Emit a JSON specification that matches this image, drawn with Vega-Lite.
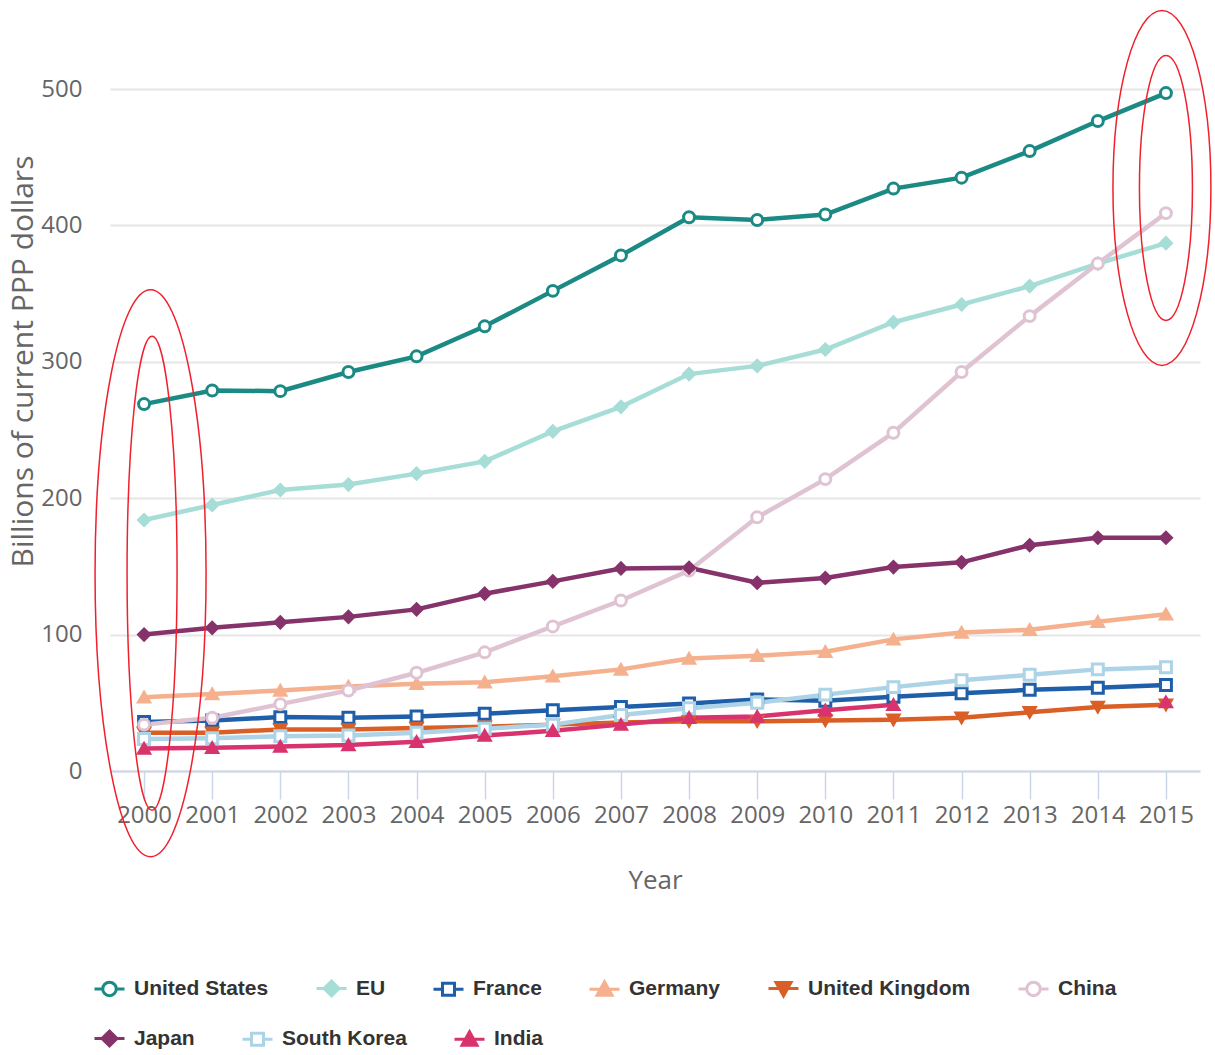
{
  "$schema": "https://vega.github.io/schema/vega-lite/v6.json",
  "width": 1090,
  "height": 682,
  "autosize": {"type": "none"},
  "padding": {"left": 110, "top": 89, "right": 15, "bottom": 284},
  "background": "white",
  "config": {"view": {"stroke": null}},
  "resolve": {"scale": {"stroke": "independent", "fill": "independent", "shape": "independent"}},
  "datasets": {
    "series": [
      {"Country": "United States", "Year": 2000, "value": 269},
      {"Country": "United States", "Year": 2001, "value": 279},
      {"Country": "United States", "Year": 2002, "value": 278.5},
      {"Country": "United States", "Year": 2003, "value": 292.5},
      {"Country": "United States", "Year": 2004, "value": 304},
      {"Country": "United States", "Year": 2005, "value": 326},
      {"Country": "United States", "Year": 2006, "value": 352},
      {"Country": "United States", "Year": 2007, "value": 378},
      {"Country": "United States", "Year": 2008, "value": 406},
      {"Country": "United States", "Year": 2009, "value": 404},
      {"Country": "United States", "Year": 2010, "value": 408},
      {"Country": "United States", "Year": 2011, "value": 427},
      {"Country": "United States", "Year": 2012, "value": 435},
      {"Country": "United States", "Year": 2013, "value": 454.5},
      {"Country": "United States", "Year": 2014, "value": 476.5},
      {"Country": "United States", "Year": 2015, "value": 497},
      {"Country": "EU", "Year": 2000, "value": 184},
      {"Country": "EU", "Year": 2001, "value": 195},
      {"Country": "EU", "Year": 2002, "value": 206},
      {"Country": "EU", "Year": 2003, "value": 210},
      {"Country": "EU", "Year": 2004, "value": 218},
      {"Country": "EU", "Year": 2005, "value": 227},
      {"Country": "EU", "Year": 2006, "value": 249},
      {"Country": "EU", "Year": 2007, "value": 267},
      {"Country": "EU", "Year": 2008, "value": 291},
      {"Country": "EU", "Year": 2009, "value": 297},
      {"Country": "EU", "Year": 2010, "value": 309},
      {"Country": "EU", "Year": 2011, "value": 329},
      {"Country": "EU", "Year": 2012, "value": 342},
      {"Country": "EU", "Year": 2013, "value": 355.5},
      {"Country": "EU", "Year": 2014, "value": 372},
      {"Country": "EU", "Year": 2015, "value": 387},
      {"Country": "France", "Year": 2000, "value": 36},
      {"Country": "France", "Year": 2001, "value": 37},
      {"Country": "France", "Year": 2002, "value": 39.5},
      {"Country": "France", "Year": 2003, "value": 39},
      {"Country": "France", "Year": 2004, "value": 40},
      {"Country": "France", "Year": 2005, "value": 42},
      {"Country": "France", "Year": 2006, "value": 44.5},
      {"Country": "France", "Year": 2007, "value": 47},
      {"Country": "France", "Year": 2008, "value": 49.5},
      {"Country": "France", "Year": 2009, "value": 52.5},
      {"Country": "France", "Year": 2010, "value": 51.5},
      {"Country": "France", "Year": 2011, "value": 54.5},
      {"Country": "France", "Year": 2012, "value": 57},
      {"Country": "France", "Year": 2013, "value": 59.5},
      {"Country": "France", "Year": 2014, "value": 61},
      {"Country": "France", "Year": 2015, "value": 63},
      {"Country": "Germany", "Year": 2000, "value": 54},
      {"Country": "Germany", "Year": 2001, "value": 56.5},
      {"Country": "Germany", "Year": 2002, "value": 59},
      {"Country": "Germany", "Year": 2003, "value": 62},
      {"Country": "Germany", "Year": 2004, "value": 64},
      {"Country": "Germany", "Year": 2005, "value": 65},
      {"Country": "Germany", "Year": 2006, "value": 69.5},
      {"Country": "Germany", "Year": 2007, "value": 74.5},
      {"Country": "Germany", "Year": 2008, "value": 82.5},
      {"Country": "Germany", "Year": 2009, "value": 84.5},
      {"Country": "Germany", "Year": 2010, "value": 87.5},
      {"Country": "Germany", "Year": 2011, "value": 96.5},
      {"Country": "Germany", "Year": 2012, "value": 101.5},
      {"Country": "Germany", "Year": 2013, "value": 103.5},
      {"Country": "Germany", "Year": 2014, "value": 109.5},
      {"Country": "Germany", "Year": 2015, "value": 115},
      {"Country": "United Kingdom", "Year": 2000, "value": 28},
      {"Country": "United Kingdom", "Year": 2001, "value": 28},
      {"Country": "United Kingdom", "Year": 2002, "value": 30.5},
      {"Country": "United Kingdom", "Year": 2003, "value": 30.5},
      {"Country": "United Kingdom", "Year": 2004, "value": 31.5},
      {"Country": "United Kingdom", "Year": 2005, "value": 32.5},
      {"Country": "United Kingdom", "Year": 2006, "value": 34},
      {"Country": "United Kingdom", "Year": 2007, "value": 35.5},
      {"Country": "United Kingdom", "Year": 2008, "value": 36.5},
      {"Country": "United Kingdom", "Year": 2009, "value": 36.5},
      {"Country": "United Kingdom", "Year": 2010, "value": 37},
      {"Country": "United Kingdom", "Year": 2011, "value": 37.5},
      {"Country": "United Kingdom", "Year": 2012, "value": 39},
      {"Country": "United Kingdom", "Year": 2013, "value": 43},
      {"Country": "United Kingdom", "Year": 2014, "value": 47},
      {"Country": "United Kingdom", "Year": 2015, "value": 48.5},
      {"Country": "China", "Year": 2000, "value": 34},
      {"Country": "China", "Year": 2001, "value": 39},
      {"Country": "China", "Year": 2002, "value": 49},
      {"Country": "China", "Year": 2003, "value": 59},
      {"Country": "China", "Year": 2004, "value": 72},
      {"Country": "China", "Year": 2005, "value": 87},
      {"Country": "China", "Year": 2006, "value": 106},
      {"Country": "China", "Year": 2007, "value": 125},
      {"Country": "China", "Year": 2008, "value": 147},
      {"Country": "China", "Year": 2009, "value": 186},
      {"Country": "China", "Year": 2010, "value": 214},
      {"Country": "China", "Year": 2011, "value": 248},
      {"Country": "China", "Year": 2012, "value": 292.5},
      {"Country": "China", "Year": 2013, "value": 333.5},
      {"Country": "China", "Year": 2014, "value": 372},
      {"Country": "China", "Year": 2015, "value": 409},
      {"Country": "Japan", "Year": 2000, "value": 100},
      {"Country": "Japan", "Year": 2001, "value": 105},
      {"Country": "Japan", "Year": 2002, "value": 109},
      {"Country": "Japan", "Year": 2003, "value": 113},
      {"Country": "Japan", "Year": 2004, "value": 118.5},
      {"Country": "Japan", "Year": 2005, "value": 130},
      {"Country": "Japan", "Year": 2006, "value": 139},
      {"Country": "Japan", "Year": 2007, "value": 148.5},
      {"Country": "Japan", "Year": 2008, "value": 149},
      {"Country": "Japan", "Year": 2009, "value": 138},
      {"Country": "Japan", "Year": 2010, "value": 141.5},
      {"Country": "Japan", "Year": 2011, "value": 149.5},
      {"Country": "Japan", "Year": 2012, "value": 153},
      {"Country": "Japan", "Year": 2013, "value": 165.5},
      {"Country": "Japan", "Year": 2014, "value": 171},
      {"Country": "Japan", "Year": 2015, "value": 171},
      {"Country": "South Korea", "Year": 2000, "value": 23.5},
      {"Country": "South Korea", "Year": 2001, "value": 24},
      {"Country": "South Korea", "Year": 2002, "value": 25.5},
      {"Country": "South Korea", "Year": 2003, "value": 26},
      {"Country": "South Korea", "Year": 2004, "value": 28},
      {"Country": "South Korea", "Year": 2005, "value": 31},
      {"Country": "South Korea", "Year": 2006, "value": 34},
      {"Country": "South Korea", "Year": 2007, "value": 41},
      {"Country": "South Korea", "Year": 2008, "value": 46},
      {"Country": "South Korea", "Year": 2009, "value": 50},
      {"Country": "South Korea", "Year": 2010, "value": 56},
      {"Country": "South Korea", "Year": 2011, "value": 61.5},
      {"Country": "South Korea", "Year": 2012, "value": 66.5},
      {"Country": "South Korea", "Year": 2013, "value": 70.5},
      {"Country": "South Korea", "Year": 2014, "value": 74.5},
      {"Country": "South Korea", "Year": 2015, "value": 76},
      {"Country": "India", "Year": 2000, "value": 16.5},
      {"Country": "India", "Year": 2001, "value": 17},
      {"Country": "India", "Year": 2002, "value": 18},
      {"Country": "India", "Year": 2003, "value": 19},
      {"Country": "India", "Year": 2004, "value": 21.5},
      {"Country": "India", "Year": 2005, "value": 26},
      {"Country": "India", "Year": 2006, "value": 29.5},
      {"Country": "India", "Year": 2007, "value": 34},
      {"Country": "India", "Year": 2008, "value": 39},
      {"Country": "India", "Year": 2009, "value": 40},
      {"Country": "India", "Year": 2010, "value": 44.5},
      {"Country": "India", "Year": 2011, "value": 48.5},
      {"Country": "India", "Year": 2012, "value": null},
      {"Country": "India", "Year": 2013, "value": null},
      {"Country": "India", "Year": 2014, "value": null},
      {"Country": "India", "Year": 2015, "value": 50.5}
    ]
  },
  "encoding": {
    "x": {
      "field": "Year",
      "type": "ordinal",
      "scale": {"type": "point", "padding": 0.5},
      "axis": {
        "title": "Year",
        "labelAngle": 0,
        "labelFont": "Open Sans",
        "labelFontSize": 24,
        "labelColor": "#666666",
        "labelPadding": 4,
        "tickSize": 28,
        "tickColor": "#ccd6eb",
        "tickWidth": 1.5,
        "domainColor": "#ccd6eb",
        "domainWidth": 2,
        "grid": false,
        "titleFont": "Open Sans",
        "titleFontSize": 26,
        "titleFontWeight": "normal",
        "titleColor": "#666666",
        "titlePadding": 40
      }
    },
    "y": {
      "field": "value",
      "type": "quantitative",
      "scale": {"domain": [0, 500], "nice": false, "zero": true},
      "axis": {
        "title": "Billions of current PPP dollars",
        "values": [0, 100, 200, 300, 400, 500],
        "grid": true,
        "gridColor": "#e6e6e6",
        "gridWidth": 2,
        "ticks": false,
        "domain": false,
        "labelFont": "Open Sans",
        "labelFontSize": 24,
        "labelColor": "#666666",
        "labelPadding": 28,
        "titleFont": "Open Sans",
        "titleFontSize": 30,
        "titleFontWeight": "normal",
        "titleColor": "#666666",
        "titlePadding": 2,
        "titleY": 272
      }
    }
  },
  "layer": [
    {
      "data": {"name": "series"},
      "transform": [{"filter": "false"}],
      "mark": {"type": "point", "filled": true, "strokeWidth": 3, "opacity": 1},
      "encoding": {
        "stroke": {
          "field": "Country", "type": "nominal",
          "scale": {"domain": ["United States", "EU", "France", "Germany", "United Kingdom", "China", "Japan", "South Korea", "India"], "range": ["#1b8a84", "#a6ddd7", "#1f5ea8", "#f5b08e", "#d95f26", "#e0c3d3", "#85336a", "#acd3e6", "#d9336e"]},
          "legend": {"values": ["United States", "EU", "France", "Germany", "United Kingdom", "China"], "orient": "none", "legendX": -17, "legendY": 883, "direction": "horizontal", "title": null, "symbolSize": 900, "symbolStrokeWidth": 3, "labelFont": "Liberation Sans", "labelFontSize": 21, "labelFontWeight": "bold", "labelColor": "#333333", "labelOffset": 8, "labelLimit": 400, "columnPadding": 41, "padding": 0}
        },
        "fill": {
          "field": "Country", "type": "nominal",
          "scale": {"domain": ["United States", "EU", "France", "Germany", "United Kingdom", "China", "Japan", "South Korea", "India"], "range": ["#ffffff", "#a6ddd7", "#ffffff", "#f5b08e", "#d95f26", "#ffffff", "#85336a", "#ffffff", "#d9336e"]},
          "legend": {"values": ["United States", "EU", "France", "Germany", "United Kingdom", "China"], "orient": "none", "legendX": -17, "legendY": 883, "direction": "horizontal", "title": null, "symbolSize": 900, "symbolStrokeWidth": 3, "labelFont": "Liberation Sans", "labelFontSize": 21, "labelFontWeight": "bold", "labelColor": "#333333", "labelOffset": 8, "labelLimit": 400, "columnPadding": 41, "padding": 0}
        },
        "shape": {
          "field": "Country", "type": "nominal",
          "scale": {
            "domain": ["United States", "EU", "France", "Germany", "United Kingdom", "China", "Japan", "South Korea", "India"],
            "range": [
              "M-1,0L-0.45,0M0.45,0L1,0M0.45,0C0.45,0.2485 0.2485,0.45 0,0.45C-0.2485,0.45 -0.45,0.2485 -0.45,0C-0.45,-0.2485 -0.2485,-0.45 0,-0.45C0.2485,-0.45 0.45,-0.2485 0.45,0Z",
              "M-1,0L1,0M0,-0.5L0.5,0L0,0.5L-0.5,0Z",
              "M-1,0L-0.4,0M0.4,0L1,0M-0.4,-0.4L0.4,-0.4L0.4,0.4L-0.4,0.4Z",
              "M-1,0L1,0M0,-0.5L0.5,0.4L-0.5,0.4Z",
              "M-1,0L1,0M0,0.5L0.5,-0.4L-0.5,-0.4Z",
              "M-1,0L-0.45,0M0.45,0L1,0M0.45,0C0.45,0.2485 0.2485,0.45 0,0.45C-0.2485,0.45 -0.45,0.2485 -0.45,0C-0.45,-0.2485 -0.2485,-0.45 0,-0.45C0.2485,-0.45 0.45,-0.2485 0.45,0Z",
              "M-1,0L1,0M0,-0.5L0.5,0L0,0.5L-0.5,0Z",
              "M-1,0L-0.4,0M0.4,0L1,0M-0.4,-0.4L0.4,-0.4L0.4,0.4L-0.4,0.4Z",
              "M-1,0L1,0M0,-0.5L0.5,0.4L-0.5,0.4Z"
            ]
          },
          "legend": {"values": ["United States", "EU", "France", "Germany", "United Kingdom", "China"], "orient": "none", "legendX": -17, "legendY": 883, "direction": "horizontal", "title": null, "symbolSize": 900, "symbolStrokeWidth": 3, "labelFont": "Liberation Sans", "labelFontSize": 21, "labelFontWeight": "bold", "labelColor": "#333333", "labelOffset": 8, "labelLimit": 400, "columnPadding": 41, "padding": 0}
        }
      }
    },
    {
      "data": {"name": "series"},
      "transform": [{"filter": "false"}],
      "mark": {"type": "point", "filled": true, "strokeWidth": 3, "opacity": 1},
      "encoding": {
        "stroke": {
          "field": "Country", "type": "nominal",
          "scale": {"domain": ["United States", "EU", "France", "Germany", "United Kingdom", "China", "Japan", "South Korea", "India"], "range": ["#1b8a84", "#a6ddd7", "#1f5ea8", "#f5b08e", "#d95f26", "#e0c3d3", "#85336a", "#acd3e6", "#d9336e"]},
          "legend": {"values": ["Japan", "South Korea", "India"], "orient": "none", "legendX": -17, "legendY": 933, "direction": "horizontal", "title": null, "symbolSize": 900, "symbolStrokeWidth": 3, "labelFont": "Liberation Sans", "labelFontSize": 21, "labelFontWeight": "bold", "labelColor": "#333333", "labelOffset": 8, "labelLimit": 400, "columnPadding": 41, "padding": 0}
        },
        "fill": {
          "field": "Country", "type": "nominal",
          "scale": {"domain": ["United States", "EU", "France", "Germany", "United Kingdom", "China", "Japan", "South Korea", "India"], "range": ["#ffffff", "#a6ddd7", "#ffffff", "#f5b08e", "#d95f26", "#ffffff", "#85336a", "#ffffff", "#d9336e"]},
          "legend": {"values": ["Japan", "South Korea", "India"], "orient": "none", "legendX": -17, "legendY": 933, "direction": "horizontal", "title": null, "symbolSize": 900, "symbolStrokeWidth": 3, "labelFont": "Liberation Sans", "labelFontSize": 21, "labelFontWeight": "bold", "labelColor": "#333333", "labelOffset": 8, "labelLimit": 400, "columnPadding": 41, "padding": 0}
        },
        "shape": {
          "field": "Country", "type": "nominal",
          "scale": {
            "domain": ["United States", "EU", "France", "Germany", "United Kingdom", "China", "Japan", "South Korea", "India"],
            "range": [
              "M-1,0L-0.45,0M0.45,0L1,0M0.45,0C0.45,0.2485 0.2485,0.45 0,0.45C-0.2485,0.45 -0.45,0.2485 -0.45,0C-0.45,-0.2485 -0.2485,-0.45 0,-0.45C0.2485,-0.45 0.45,-0.2485 0.45,0Z",
              "M-1,0L1,0M0,-0.5L0.5,0L0,0.5L-0.5,0Z",
              "M-1,0L-0.4,0M0.4,0L1,0M-0.4,-0.4L0.4,-0.4L0.4,0.4L-0.4,0.4Z",
              "M-1,0L1,0M0,-0.5L0.5,0.4L-0.5,0.4Z",
              "M-1,0L1,0M0,0.5L0.5,-0.4L-0.5,-0.4Z",
              "M-1,0L-0.45,0M0.45,0L1,0M0.45,0C0.45,0.2485 0.2485,0.45 0,0.45C-0.2485,0.45 -0.45,0.2485 -0.45,0C-0.45,-0.2485 -0.2485,-0.45 0,-0.45C0.2485,-0.45 0.45,-0.2485 0.45,0Z",
              "M-1,0L1,0M0,-0.5L0.5,0L0,0.5L-0.5,0Z",
              "M-1,0L-0.4,0M0.4,0L1,0M-0.4,-0.4L0.4,-0.4L0.4,0.4L-0.4,0.4Z",
              "M-1,0L1,0M0,-0.5L0.5,0.4L-0.5,0.4Z"
            ]
          },
          "legend": {"values": ["Japan", "South Korea", "India"], "orient": "none", "legendX": -17, "legendY": 933, "direction": "horizontal", "title": null, "symbolSize": 900, "symbolStrokeWidth": 3, "labelFont": "Liberation Sans", "labelFontSize": 21, "labelFontWeight": "bold", "labelColor": "#333333", "labelOffset": 8, "labelLimit": 400, "columnPadding": 41, "padding": 0}
        }
      }
    },
    {
      "data": {"name": "series"},
      "mark": {"type": "line", "strokeWidth": 4.5, "invalid": "break-paths-filter-domains"},
      "encoding": {
        "stroke": {
          "field": "Country", "type": "nominal", "legend": null,
          "scale": {"domain": ["United States", "EU", "France", "Germany", "United Kingdom", "China", "Japan", "South Korea", "India"], "range": ["#1b8a84", "#a6ddd7", "#1f5ea8", "#f5b08e", "#d95f26", "#e0c3d3", "#85336a", "#acd3e6", "#d9336e"]}
        }
      }
    },
    {
      "data": {"name": "series"},
      "mark": {"type": "point", "filled": true, "size": 120, "strokeWidth": 3, "opacity": 1},
      "encoding": {
        "stroke": {
          "field": "Country", "type": "nominal", "legend": null,
          "scale": {"domain": ["United States", "EU", "France", "Germany", "United Kingdom", "China", "Japan", "South Korea", "India"], "range": ["#1b8a84", "#a6ddd7", "#1f5ea8", "#f5b08e", "#d95f26", "#e0c3d3", "#85336a", "#acd3e6", "#d9336e"]}
        },
        "fill": {
          "field": "Country", "type": "nominal", "legend": null,
          "scale": {"domain": ["United States", "EU", "France", "Germany", "United Kingdom", "China", "Japan", "South Korea", "India"], "range": ["#ffffff", "#a6ddd7", "#ffffff", "#f5b08e", "#d95f26", "#ffffff", "#85336a", "#ffffff", "#d9336e"]}
        },
        "shape": {
          "field": "Country", "type": "nominal", "legend": null,
          "scale": {"domain": ["United States", "EU", "France", "Germany", "United Kingdom", "China", "Japan", "South Korea", "India"], "range": ["circle", "diamond", "square", "triangle-up", "triangle-down", "circle", "diamond", "square", "triangle-up"]}
        }
      }
    },
    {
      "data": {"values": [{"Year": 2000, "value": 145}]},
      "mark": {"type": "point", "filled": false, "size": 321489, "stroke": "#f0202c", "strokeWidth": 1.5, "opacity": 1, "xOffset": 6.5,
        "shape": "M0,-1C0.1081,-1 0.1958,-0.5523 0.1958,0C0.1958,0.5523 0.1081,1 0,1C-0.1081,1 -0.1958,0.5523 -0.1958,0C-0.1958,-0.5523 -0.1081,-1 0,-1Z"}
    },
    {
      "data": {"values": [{"Year": 2000, "value": 145}]},
      "mark": {"type": "point", "filled": false, "size": 224676, "stroke": "#f0202c", "strokeWidth": 1.5, "opacity": 1, "xOffset": 8,
        "shape": "M0,-1C0.0583,-1 0.1055,-0.5523 0.1055,0C0.1055,0.5523 0.0583,1 0,1C-0.0583,1 -0.1055,0.5523 -0.1055,0C-0.1055,-0.5523 -0.0583,-1 0,-1Z"}
    },
    {
      "data": {"values": [{"Year": 2015, "value": 427.5}]},
      "mark": {"type": "point", "filled": false, "size": 126025, "stroke": "#f0202c", "strokeWidth": 1.5, "opacity": 1, "xOffset": -4,
        "shape": "M0,-1C0.1524,-1 0.276,-0.5523 0.276,0C0.276,0.5523 0.1524,1 0,1C-0.1524,1 -0.276,0.5523 -0.276,0C-0.276,-0.5523 -0.1524,-1 0,-1Z"}
    },
    {
      "data": {"values": [{"Year": 2015, "value": 427.5}]},
      "mark": {"type": "point", "filled": false, "size": 70225, "stroke": "#f0202c", "strokeWidth": 1.5, "opacity": 1, "xOffset": 0,
        "shape": "M0,-1C0.1105,-1 0.2,-0.5523 0.2,0C0.2,0.5523 0.1105,1 0,1C-0.1105,1 -0.2,0.5523 -0.2,0C-0.2,-0.5523 -0.1105,-1 0,-1Z"}
    }
  ]
}
